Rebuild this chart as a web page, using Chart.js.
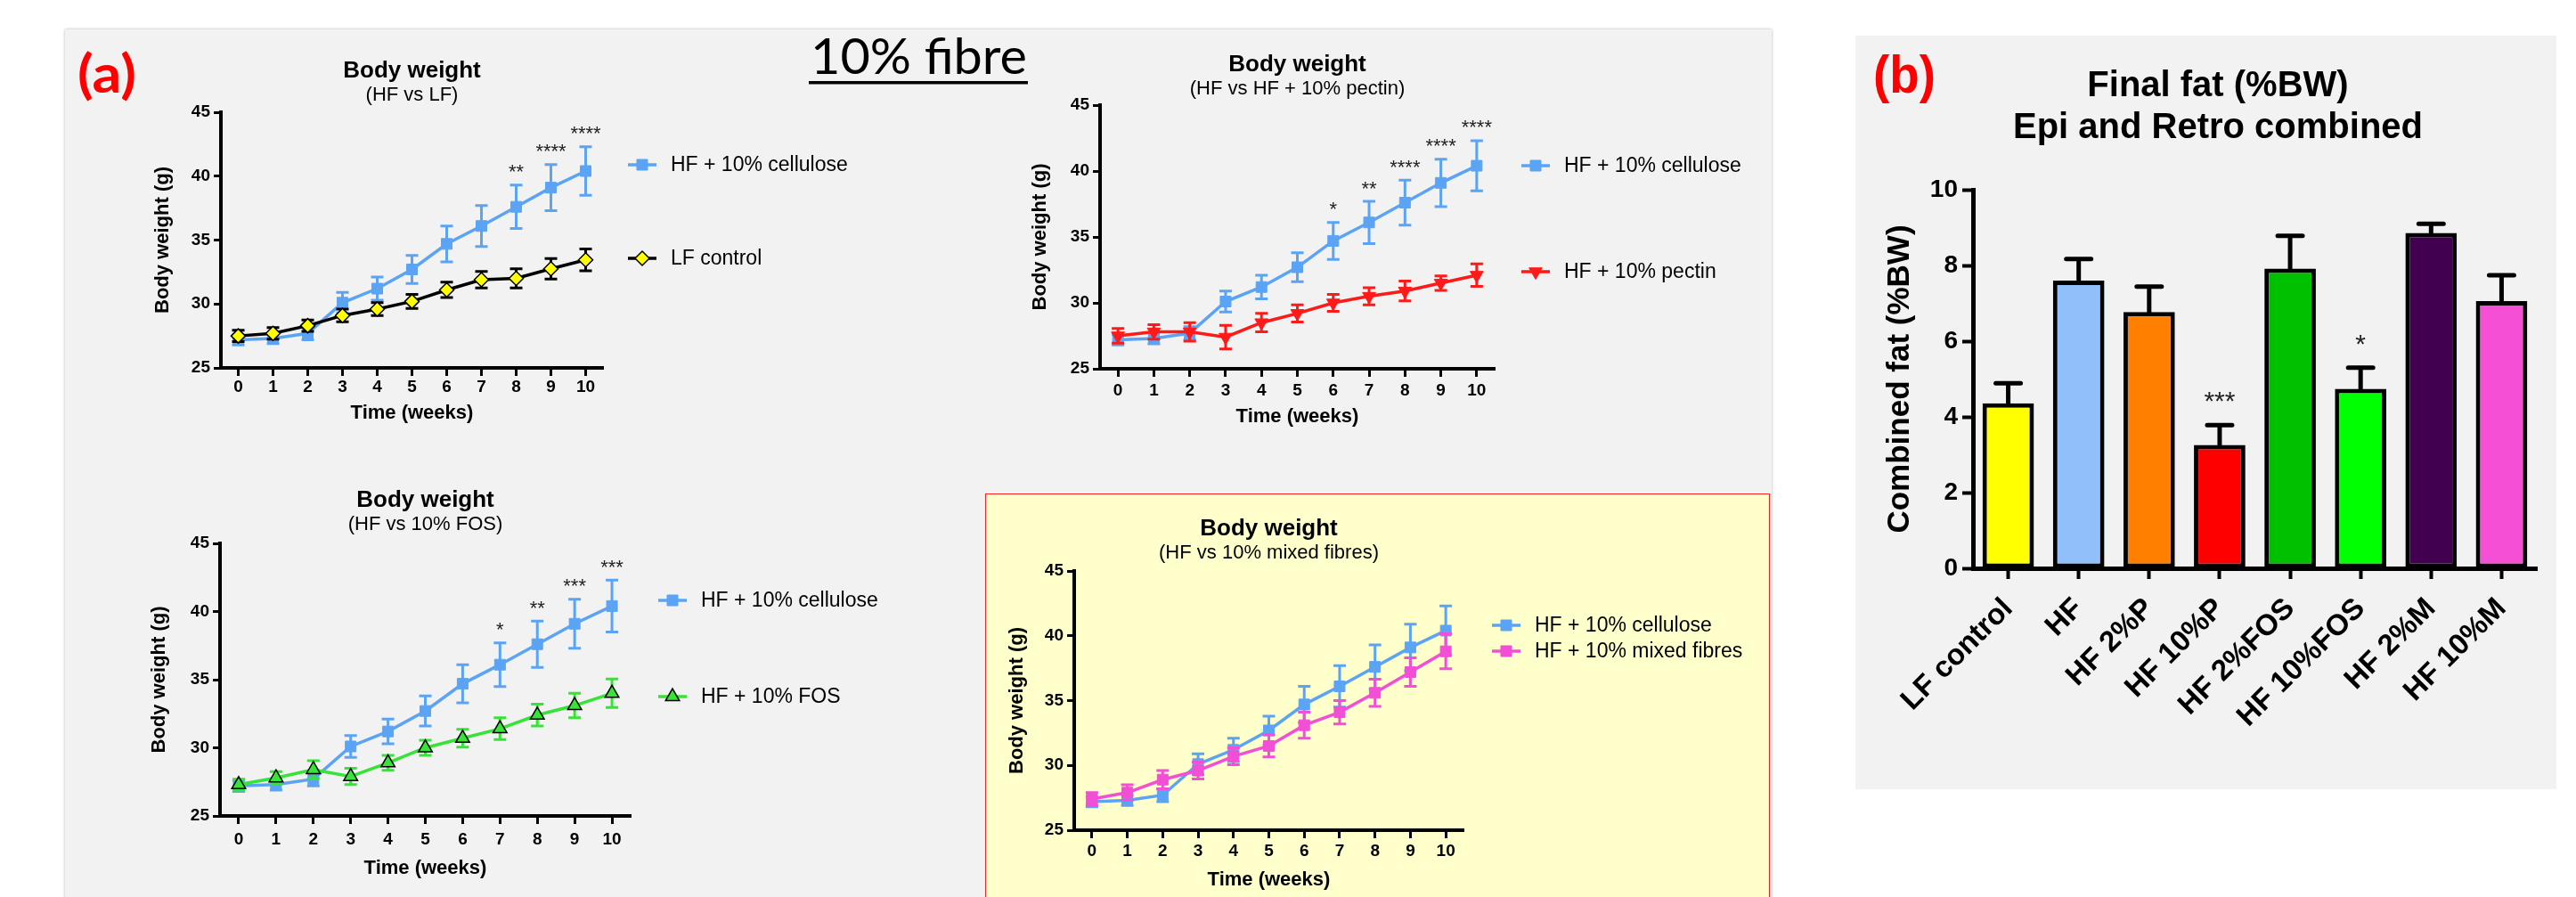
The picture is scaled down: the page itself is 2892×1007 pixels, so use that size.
<!DOCTYPE html>
<html>
<head>
<meta charset="utf-8">
<script src="https://cdn.jsdelivr.net/npm/chart.js@4.4.1/dist/chart.umd.min.js"></script>
<style>
html, body { margin: 0; padding: 0; background: #fff; }
body { width: 2892px; height: 1007px; position: relative; overflow: hidden; }
.panel { position: absolute; background: #f2f2f2; }
#panelA { left: 73px; top: 33px; width: 1916px; height: 1000px; box-shadow: 0 0 3px rgba(0,0,0,0.3); }
#panelB { left: 2083px; top: 40px; width: 787px; height: 846px; }
#mixBox { position: absolute; left: 1106px; top: 554px; width: 881px; height: 470px; background: #ffffcc; border: 1px solid #ff2020; box-sizing: border-box; }
canvas { position: absolute; }
svg { position: absolute; left: 0; top: 0; }
</style>
</head>
<body>
<div class="panel" id="panelA"></div>
<div class="panel" id="panelB"></div>
<div id="mixBox"></div>
<svg width="2892" height="1007">
  <text x="87" y="104" font-family="Lato, 'Open Sans', sans-serif" font-weight="700" font-size="60" textLength="66" lengthAdjust="spacingAndGlyphs" fill="#ff0000">(a)</text>
  <text x="910" y="83" font-family="Lato, 'Open Sans', sans-serif" font-size="57" textLength="243" lengthAdjust="spacingAndGlyphs" fill="#000">10% fibre</text>
  <rect x="908" y="91" width="246" height="3.5" fill="#000"></rect>
  <text x="2103" y="104" font-family="'Liberation Sans', Arial, sans-serif" font-weight="700" font-size="60" textLength="70" lengthAdjust="spacingAndGlyphs" fill="#ff0000">(b)</text>
</svg>
<script>
// ---- data ----
const weeks = ['0', '1', '2', '3', '4', '5', '6', '7', '8', '9', '10'];

const hfCellulose    = [27.2, 27.3, 27.7, 30.1, 31.2, 32.7, 34.7, 36.1, 37.6, 39.1, 40.4];
const hfCelluloseSem = [0.4, 0.4, 0.5, 0.8, 0.9, 1.1, 1.4, 1.6, 1.7, 1.8, 1.9];
const lfControl      = [27.5, 27.7, 28.3, 29.1, 29.6, 30.2, 31.1, 31.9, 32.0, 32.75, 33.45];
const lfControlSem   = [0.45, 0.45, 0.45, 0.5, 0.5, 0.55, 0.6, 0.65, 0.75, 0.8, 0.85];
const hfPectin       = [27.5, 27.8, 27.8, 27.4, 28.5, 29.2, 30.0, 30.5, 30.9, 31.5, 32.1];
const hfPectinSem    = [0.55, 0.55, 0.7, 0.9, 0.7, 0.65, 0.65, 0.65, 0.75, 0.55, 0.85];
const hfFos          = [27.3, 27.8, 28.4, 27.9, 28.9, 30.0, 30.7, 31.4, 32.4, 33.1, 34.0];
const hfFosSem       = [0.4, 0.45, 0.65, 0.6, 0.55, 0.55, 0.65, 0.8, 0.8, 0.9, 1.05];
const hfMixed        = [27.4, 27.9, 28.9, 29.6, 30.7, 31.5, 33.1, 34.1, 35.6, 37.2, 38.8];
const hfMixedSem     = [0.5, 0.6, 0.7, 0.65, 0.65, 0.85, 1.0, 0.9, 1.05, 1.1, 1.35];

const starsHfLf   = ['', '', '', '', '', '', '', '', '**', '****', '****'];
const starsPectin = ['', '', '', '', '', '', '*', '**', '****', '****', '****'];
const starsFos    = ['', '', '', '', '', '', '', '*', '**', '***', '***'];

const fatGroups      = ['LF control', 'HF', 'HF 2%P', 'HF 10%P', 'HF 2%FOS', 'HF 10%FOS', 'HF 2%M', 'HF 10%M'];
const combinedFat    = [4.36, 7.6, 6.77, 3.26, 7.92, 4.74, 8.86, 7.06];
const combinedFatSem = [0.53, 0.57, 0.67, 0.52, 0.86, 0.56, 0.24, 0.68];
const fatStars       = ['', '', '', '***', '', '*', '', ''];
const fatColors      = ['#ffff00', '#90bff9', '#ff8000', '#ff0000', '#00c000', '#00ff00', '#420050', '#f550d5'];

// ---- styles / layout ----
const FONT = "'Liberation Sans', Arial, sans-serif";
Chart.defaults.font.family = FONT;
Chart.defaults.color = '#000';

const styles = {
  cellulose: { color: '#5ba4f5', point: 'rect', radius: 8.5, fill: '#5ba4f5', edge: '#5ba4f5', rot: 0, bw: 1 },
  lf:        { color: '#000000', point: 'rectRot', radius: 8, fill: '#ffff00', edge: '#000000', rot: 0, bw: 1.5 },
  pectin:    { color: '#ff1a1a', point: 'triangle', radius: 8.5, fill: '#ff1a1a', edge: '#ff1a1a', rot: 180, bw: 1 },
  fos:       { color: '#36e336', point: 'triangle', radius: 9, fill: '#36e336', edge: '#000000', rot: 0, bw: 1.5 },
  mixed:     { color: '#f24fd6', point: 'rect', radius: 8.5, fill: '#f24fd6', edge: '#f24fd6', rot: 0, bw: 1 }
};

// page coordinates: box = canvas [x, y, w, h], area = plot [left, top, right, bottom]
const layouts = {
  hfLf:   { box: [150, 60, 860, 425],  area: [248, 126, 677, 413],  yTitleX: 183,  xTitleY: 464, tickPad: 1, titleY: 87,  subY: 113, legendX: 721,  legendY: [185, 290] },
  pectin: { box: [1130, 50, 855, 440], area: [1235, 118, 1678, 414], yTitleX: 1168, xTitleY: 468, tickPad: 4, titleY: 80,  subY: 106, legendX: 1724, legendY: [186, 305] },
  fos:    { box: [150, 540, 880, 460], area: [247, 610, 708, 916],  yTitleX: 179,  xTitleY: 975, tickPad: 6, titleY: 569, subY: 595, legendX: 755,  legendY: [674, 782] },
  mixed:  { box: [1110, 570, 875, 437], area: [1206, 641, 1643, 932], yTitleX: 1142, xTitleY: 988, tickPad: 3, titleY: 601, subY: 627, legendX: 1691, legendY: [702, 731] }
};

function makeCanvas(id, box) {
  const c = document.createElement('canvas');
  c.id = id;
  c.width = box[2];
  c.height = box[3];
  c.style.left = box[0] + 'px';
  c.style.top = box[1] + 'px';
  document.body.appendChild(c);
  return c;
}

// ---- plugins ----
function drawErrors(chart, meta, ds, upOnly) {
  const ctx = chart.ctx, y = chart.scales.y;
  ctx.save();
  ctx.strokeStyle = ds.errorColor;
  ctx.lineWidth = ds.errorWidth;
  ctx.lineCap = ds.errorCap || 'butt';
  meta.data.forEach((el, i) => {
    const v = ds.data[i], e = ds.errors[i];
    const top = y.getPixelForValue(v + e);
    const bot = y.getPixelForValue(upOnly ? v : v - e);
    const w = ds.capHalf;
    ctx.beginPath();
    ctx.moveTo(el.x, top); ctx.lineTo(el.x, bot);
    ctx.moveTo(el.x - w, top); ctx.lineTo(el.x + w, top);
    if (!upOnly) { ctx.moveTo(el.x - w, bot); ctx.lineTo(el.x + w, bot); }
    ctx.stroke();
  });
  ctx.restore();
}

const errorBars = {
  id: 'errorBars',
  beforeDatasetDraw(chart, args) {
    const ds = chart.data.datasets[args.index];
    if (ds.errors && chart.config.type === 'line') drawErrors(chart, args.meta, ds, false);
  },
  afterDatasetDraw(chart, args) {
    const ds = chart.data.datasets[args.index];
    if (ds.errors && chart.config.type === 'bar') drawErrors(chart, args.meta, ds, true);
  }
};

function starMarks(size, lift) {
  return {
    id: 'starMarks',
    afterDatasetsDraw(chart) {
      const ctx = chart.ctx, y = chart.scales.y;
      chart.data.datasets.forEach((ds, di) => {
        if (!ds.stars) return;
        const meta = chart.getDatasetMeta(di);
        ctx.save();
        ctx.font = size + 'px ' + FONT;
        ctx.fillStyle = '#222';
        ctx.textAlign = 'center';
        ctx.textBaseline = 'alphabetic';
        ds.stars.forEach((s, i) => {
          if (!s) return;
          const top = y.getPixelForValue(ds.data[i] + ds.errors[i]);
          ctx.fillText(s, meta.data[i].x, top - lift);
        });
        ctx.restore();
      });
    }
  };
}

function sideLegend(x, rows) {
  return {
    id: 'sideLegend',
    afterDraw(chart) {
      const ctx = chart.ctx;
      rows.forEach((y, k) => {
        const ds = chart.data.datasets[k];
        ctx.save();
        ctx.strokeStyle = ds.borderColor;
        ctx.lineWidth = ds.borderWidth;
        ctx.beginPath();
        ctx.moveTo(x - 16, y); ctx.lineTo(x + 16, y);
        ctx.stroke();
        ctx.fillStyle = ds.pointBackgroundColor;
        ctx.strokeStyle = ds.pointBorderColor;
        ctx.lineWidth = ds.pointBorderWidth;
        if (Chart.helpers && Chart.helpers.drawPoint) {
          Chart.helpers.drawPoint(ctx, { pointStyle: ds.pointStyle, rotation: ds.pointRotation || 0, radius: ds.pointRadius, borderWidth: ds.pointBorderWidth }, x, y);
        } else {
          ctx.fillRect(x - 6, y - 6, 12, 12);
        }
        ctx.fillStyle = '#000';
        ctx.font = '23px ' + FONT;
        ctx.textAlign = 'left';
        ctx.textBaseline = 'middle';
        ctx.fillText(ds.label, x + 32, y + 1);
        ctx.restore();
      });
    }
  };
}

// text lines centred on the plot area (x given) or at an explicit x
function captions(items) {
  return {
    id: 'captions',
    afterDraw(chart) {
      const ctx = chart.ctx, a = chart.chartArea;
      items.forEach(t => {
        ctx.save();
        ctx.font = t.f;
        ctx.fillStyle = '#000';
        ctx.textAlign = 'center';
        ctx.textBaseline = 'alphabetic';
        ctx.fillText(t.text, t.x === undefined ? (a.left + a.right) / 2 : t.x, t.y);
        ctx.restore();
      });
    }
  };
}

// ---- line charts ----
function series(label, data, sem, st, extra) {
  return Object.assign({
    label: label, data: data, errors: sem,
    borderColor: st.color, borderWidth: 3.5, tension: 0, fill: false,
    pointStyle: st.point, pointRadius: st.radius, pointRotation: st.rot,
    pointBackgroundColor: st.fill, pointBorderColor: st.edge, pointBorderWidth: st.bw,
    errorColor: st.color, errorWidth: 3, capHalf: 7
  }, extra || {});
}

function bodyWeight(id, L, subtitle, datasets) {
  const [bx, by, bw, bh] = L.box;
  const [al, at, ar, ab] = L.area;
  const lh = 22 * 1.2;
  const tickFont = { family: FONT, size: 19, weight: 'bold' };
  const titleFont = { family: FONT, size: 22, weight: 'bold', lineHeight: 1.2 };
  return new Chart(makeCanvas(id, L.box), {
    type: 'line',
    data: { labels: weeks, datasets: datasets },
    options: {
      responsive: false, animation: false, events: [], devicePixelRatio: 1,
      layout: { padding: { top: at - by, right: bx + bw - ar, left: 0, bottom: 0 } },
      plugins: { legend: { display: false }, tooltip: { enabled: false } },
      scales: {
        x: {
          type: 'category', offset: true,
          grid: { display: true, drawOnChartArea: false, offset: false, tickLength: 9, tickWidth: 3, tickColor: '#000' },
          border: { display: true, color: '#000', width: 4 },
          ticks: { color: '#000', font: tickFont, padding: L.tickPad, maxRotation: 0, autoSkip: false },
          title: { display: true, text: 'Time (weeks)', color: '#000', font: titleFont, padding: { top: 0, bottom: by + bh - lh / 2 - L.xTitleY } },
          afterFit(s) { s.height = by + bh - ab; }
        },
        y: {
          min: 25, max: 45,
          grid: { display: true, drawOnChartArea: false, tickLength: 8, tickWidth: 3, tickColor: '#000' },
          border: { display: true, color: '#000', width: 4 },
          ticks: { stepSize: 5, color: '#000', font: tickFont, padding: 4 },
          title: { display: true, text: 'Body weight (g)', color: '#000', font: titleFont, padding: { top: L.yTitleX - bx - lh / 2, bottom: 0 } },
          afterFit(s) { s.width = al - bx; }
        }
      }
    },
    plugins: [
      errorBars,
      starMarks(22, 7.5),
      sideLegend(L.legendX - bx, L.legendY.map(v => v - by)),
      captions([
        { text: 'Body weight', y: L.titleY - by, f: 'bold 26px ' + FONT },
        { text: subtitle, y: L.subY - by, f: '22px ' + FONT }
      ])
    ]
  });
}

bodyWeight('hfLf', layouts.hfLf, '(HF vs LF)', [
  series('HF + 10% cellulose', hfCellulose, hfCelluloseSem, styles.cellulose, { stars: starsHfLf, order: 2 }),
  series('LF control', lfControl, lfControlSem, styles.lf, { order: 1 })
]);

bodyWeight('pectin', layouts.pectin, '(HF vs HF + 10% pectin)', [
  series('HF + 10% cellulose', hfCellulose, hfCelluloseSem, styles.cellulose, { stars: starsPectin, order: 2 }),
  series('HF + 10% pectin', hfPectin, hfPectinSem, styles.pectin, { order: 1 })
]);

bodyWeight('fos', layouts.fos, '(HF vs 10% FOS)', [
  series('HF + 10% cellulose', hfCellulose, hfCelluloseSem, styles.cellulose, { stars: starsFos, order: 2 }),
  series('HF + 10% FOS', hfFos, hfFosSem, styles.fos, { order: 1 })
]);

bodyWeight('mixed', layouts.mixed, '(HF vs 10% mixed fibres)', [
  series('HF + 10% cellulose', hfCellulose, hfCelluloseSem, styles.cellulose, { order: 2 }),
  series('HF + 10% mixed fibres', hfMixed, hfMixedSem, styles.mixed, { order: 1 })
]);

// ---- bar chart (b) ----
const fatBox = [2085, 40, 783, 846];
const fatArea = [2215, 213, 2848, 638];
new Chart(makeCanvas('fat', fatBox), {
  type: 'bar',
  data: {
    labels: fatGroups,
    datasets: [{
      data: combinedFat, errors: combinedFatSem, stars: fatStars,
      backgroundColor: fatColors, borderColor: '#000', borderWidth: 5, borderSkipped: false,
      barPercentage: 0.73, categoryPercentage: 1,
      errorColor: '#000', errorWidth: 5, capHalf: 14, errorCap: 'round'
    }]
  },
  options: {
    responsive: false, animation: false, events: [], devicePixelRatio: 1,
    layout: { padding: { top: fatArea[1] - fatBox[1], right: fatBox[0] + fatBox[2] - fatArea[2], left: 0, bottom: 0 } },
    plugins: { legend: { display: false }, tooltip: { enabled: false } },
    scales: {
      x: {
        grid: { display: true, drawOnChartArea: false, offset: false, tickLength: 12, tickWidth: 4, tickColor: '#000' },
        border: { display: true, color: '#000', width: 5 },
        ticks: { color: '#000', font: { family: FONT, size: 33, weight: 'bold' }, autoSkip: false, minRotation: 45, maxRotation: 45, padding: 14 },
        afterFit(s) { s.height = fatBox[1] + fatBox[3] - fatArea[3]; }
      },
      y: {
        min: 0, max: 10,
        grid: { display: true, drawOnChartArea: false, tickLength: 12, tickWidth: 4, tickColor: '#000' },
        border: { display: true, color: '#000', width: 5 },
        ticks: { stepSize: 2, color: '#000', font: { family: FONT, size: 28, weight: 'bold' }, padding: 5 },
        title: { display: true, text: 'Combined fat (%BW)', color: '#000', font: { family: FONT, size: 35, weight: 'bold', lineHeight: 1.2 }, padding: { top: 2133 - fatBox[0] - 21, bottom: 0 } },
        afterFit(s) { s.width = fatArea[0] - fatBox[0]; }
      }
    }
  },
  plugins: [
    errorBars,
    starMarks(30, 17),
    captions([
      { text: 'Final fat (%BW)', x: 2490 - fatBox[0], y: 108 - fatBox[1], f: 'bold 40px ' + FONT },
      { text: 'Epi and Retro combined', x: 2490 - fatBox[0], y: 155 - fatBox[1], f: 'bold 40px ' + FONT }
    ])
  ]
});
</script>
</body>
</html>
